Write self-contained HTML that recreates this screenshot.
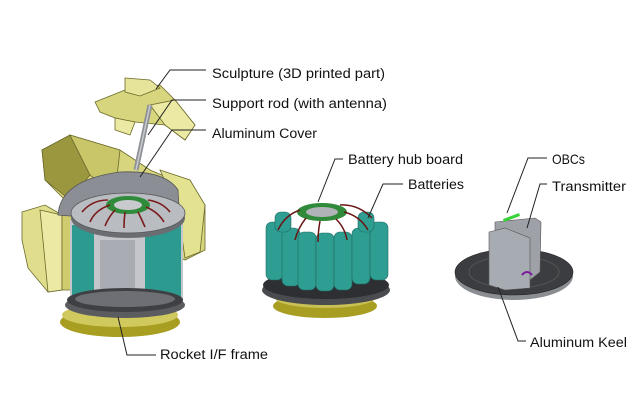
<!DOCTYPE html>
<html><head><meta charset="utf-8"><style>
html,body{margin:0;padding:0;background:#fff;}
svg{display:block;}
text{font-family:"Liberation Sans",sans-serif;font-size:13.5px;fill:#111;}
</style></head><body>
<svg width="640" height="400" viewBox="0 0 640 400" xmlns="http://www.w3.org/2000/svg">
<!-- LEFT ASSEMBLY -->
<g stroke="#6b6a2a" stroke-width="0.8">
 <polygon points="42,150 70,135 120,150 150,170 185,185 205,205 205,250 185,260 150,245 110,218 70,205 45,180" fill="#d7d57e"/>
 <polygon points="42,150 70,135 90,175 70,200 45,180" fill="#9a973f"/>
 <polygon points="90,175 70,135 120,150 115,195" fill="#c9c66a"/>
 <polygon points="160,170 190,180 205,205 200,252 185,258 178,210" fill="#e3e290"/>
 <polygon points="22,212 45,205 62,215 62,290 48,292 28,268 22,240" fill="#e0de8c"/>
 <polygon points="40,210 62,215 62,290 48,292" fill="#ebe9a4"/>
 <polygon points="62,215 75,215 75,290 62,290" fill="#cfcb6e"/>
 <polygon points="95,102 125,90 160,85 175,100 195,125 185,140 165,125 135,122 115,118 100,112" fill="#d7d57e"/>
 <polygon points="125,78 150,80 160,88 140,96 125,92" fill="#e6e49a"/>
 <polygon points="150,105 165,125 185,140 195,125 175,100" fill="#ebe9a4"/>
 <polygon points="115,118 135,122 130,135 115,130" fill="#ebe9a4"/>
</g>
<line x1="150" y1="105" x2="136" y2="170" stroke="#8e9196" stroke-width="5"/>
<line x1="150" y1="105" x2="136" y2="170" stroke="#c8cacd" stroke-width="1.5"/>
<path d="M58,215 Q60,180 120,172 Q165,170 178,190 L180,225 Z" fill="#8b8e95" stroke="#555" stroke-width="0.8"/>
<!-- yellow frame -->
<ellipse cx="120" cy="322" rx="60" ry="15" fill="#a89e22"/>
<ellipse cx="120" cy="315" rx="58" ry="12" fill="#d0c95e"/>
<!-- body -->
<rect x="70" y="220" width="113" height="82" fill="#c4c6cb"/>
<rect x="72" y="225" width="22" height="70" fill="#2c9a8e"/>
<rect x="145" y="225" width="36" height="72" fill="#2c9a8e"/>
<rect x="100" y="240" width="35" height="57" fill="#a9acb2"/>
<ellipse cx="125" cy="305" rx="60" ry="13" fill="#5a5c60"/>
<ellipse cx="125" cy="300" rx="58" ry="12" fill="#3f4044"/>
<ellipse cx="125" cy="299" rx="50" ry="8" fill="#6d6f74"/>
<!-- top plate -->
<ellipse cx="128" cy="218" rx="57" ry="20" fill="#6a6d72"/>
<ellipse cx="128" cy="213" rx="57" ry="20" fill="#b9bcc1" stroke="#555" stroke-width="0.8"/>
<ellipse cx="128" cy="205" rx="22" ry="9" fill="#2f8b3a"/>
<ellipse cx="128" cy="205" rx="14" ry="5" fill="#c8cacd"/>
<g stroke="#7a1a1a" stroke-width="1.6" fill="none">
 <path d="M110,205 Q95,210 90,222"/><path d="M115,210 Q108,218 105,226"/>
 <path d="M125,212 Q124,220 124,228"/><path d="M138,212 Q142,220 145,227"/>
 <path d="M146,207 Q158,212 164,222"/><path d="M148,200 Q162,202 170,212"/>
 <path d="M108,200 Q92,200 82,212"/>
</g>

<!-- MIDDLE ASSEMBLY -->
<ellipse cx="325" cy="306" rx="52" ry="12" fill="#a89e22"/>
<ellipse cx="325" cy="298" rx="50" ry="10" fill="#c9c155"/>
<ellipse cx="326" cy="290" rx="64" ry="15" fill="#4a4b4f"/>
<ellipse cx="326" cy="285" rx="63" ry="14" fill="#2e2f33"/>
<g fill="#2f9e92" stroke="#1f6b62" stroke-width="0.6">
 <rect x="266" y="222" width="17" height="58" rx="6"/>
 <rect x="282" y="228" width="18" height="58" rx="6"/>
 <rect x="298" y="232" width="18" height="58" rx="6"/>
 <rect x="316" y="233" width="18" height="58" rx="6"/>
 <rect x="334" y="232" width="18" height="58" rx="6"/>
 <rect x="352" y="228" width="18" height="56" rx="6"/>
 <rect x="370" y="222" width="18" height="58" rx="6"/>
 <rect x="275" y="212" width="16" height="20" rx="6"/>
 <rect x="358" y="212" width="16" height="20" rx="6"/>
</g>
<ellipse cx="322" cy="212" rx="25" ry="9" fill="#2f8b3a"/>
<ellipse cx="322" cy="212" rx="16" ry="5" fill="#b0b3b8"/>
<g stroke="#6a1515" stroke-width="1.5" fill="none">
 <path d="M300,210 Q285,215 278,230"/><path d="M306,218 Q298,228 295,240"/>
 <path d="M320,221 Q318,232 318,242"/><path d="M336,219 Q345,228 347,240"/>
 <path d="M344,212 Q360,216 368,230"/><path d="M340,205 Q358,204 372,218"/>
</g>

<!-- RIGHT ASSEMBLY -->
<ellipse cx="514" cy="276" rx="59" ry="24" fill="#8a8d92"/>
<ellipse cx="514" cy="272" rx="59" ry="23" fill="#3c3d41" stroke="#222" stroke-width="0.6"/>
<ellipse cx="514" cy="272" rx="45" ry="16" fill="none" stroke="#555" stroke-width="1"/>
<polygon points="495,222 535,218 541,222 540,272 530,280 495,275" fill="#9ea1a8" stroke="#555" stroke-width="0.6"/>
<polygon points="489,232 505,228 530,238 530,288 505,290 489,285" fill="#a7abb2" stroke="#555" stroke-width="0.6"/>
<polygon points="503,219 519,213 520,216 504,222" fill="#3bd33b"/>
<path d="M522,275 q5,-6 10,0" stroke="#7a1a9a" stroke-width="2" fill="none"/>

<!-- LEADERS -->
<g stroke="#222" stroke-width="1" fill="none">
 <polyline points="206,70 170,70 156,89"/>
 <polyline points="206,100 172,100 148,135"/>
 <polyline points="206,130 172,130 140,177"/>
 <polyline points="156,355 127,355 118,317"/>
 <polyline points="343,159 335,159 318,202"/>
 <polyline points="403,184 383,184 368,218"/>
 <polyline points="547,158 528,158 507,213"/>
 <polyline points="547,184 540,184 527,228"/>
 <polyline points="526,341 518,341 498,287"/>
</g>
<text x="212" y="78" textLength="173" lengthAdjust="spacingAndGlyphs">Sculpture (3D printed part)</text>
<text x="212" y="108" textLength="175" lengthAdjust="spacingAndGlyphs">Support rod (with antenna)</text>
<text x="212" y="138" textLength="105" lengthAdjust="spacingAndGlyphs">Aluminum Cover</text>
<text x="160" y="359" textLength="108" lengthAdjust="spacingAndGlyphs">Rocket I/F frame</text>
<text x="348" y="164" textLength="115" lengthAdjust="spacingAndGlyphs">Battery hub board</text>
<text x="408" y="189" textLength="56" lengthAdjust="spacingAndGlyphs">Batteries</text>
<text x="552" y="164" textLength="33" lengthAdjust="spacingAndGlyphs" style="font-size:14px">OBCs</text>
<text x="552" y="191" textLength="74" lengthAdjust="spacingAndGlyphs">Transmitter</text>
<text x="530" y="347" textLength="97" lengthAdjust="spacingAndGlyphs">Aluminum Keel</text>
</svg>
</body></html>
